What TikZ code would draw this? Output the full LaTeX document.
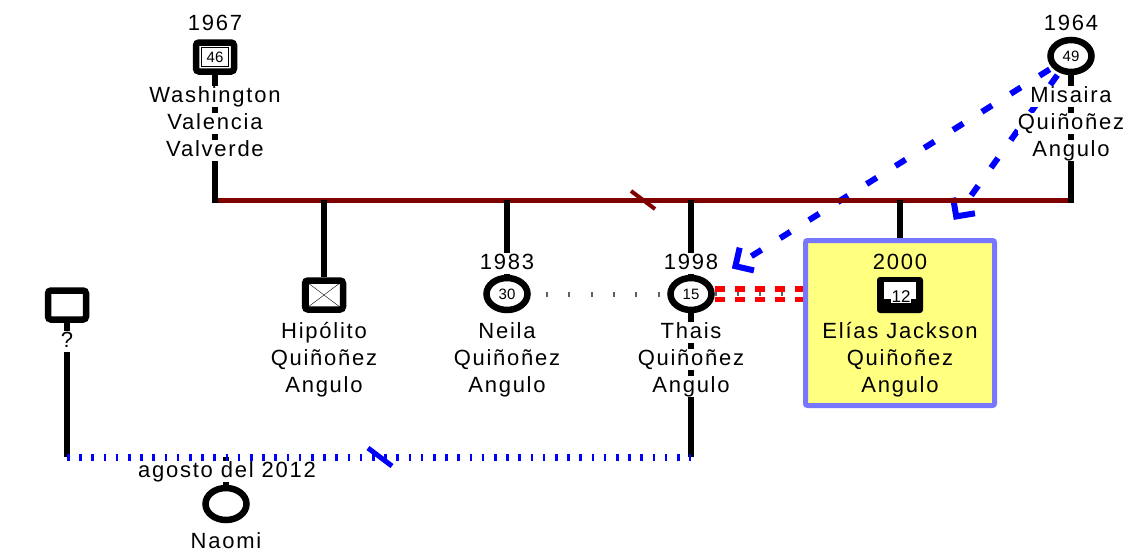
\documentclass[tikz,border=0pt]{standalone}
\usepackage{fontspec}
\setmainfont{Liberation Sans}
\newfontfamily\gfont[LetterSpace=8]{Liberation Sans}
\usetikzlibrary{shapes.geometric,arrows.meta,backgrounds}
\definecolor{barred}{RGB}{128,0,0}
\definecolor{boxfill}{RGB}{255,255,128}
\definecolor{boxline}{RGB}{119,119,255}
\definecolor{dotgray}{RGB}{96,96,96}
\tikzset{
  male/.style={draw, line width=6.5pt, rounded corners=3pt, fill=white, minimum width=38pt, minimum height=29pt, inner sep=0pt},
  female/.style={ellipse, draw, line width=6.5pt, fill=white, minimum width=41pt, minimum height=32pt, inner sep=0pt, font=\fontsize{15}{15}\selectfont},
  agebox/.style={draw, thin, fill=white, inner sep=0pt, minimum width=27pt, minimum height=19pt, font=\fontsize{15}{15}\selectfont},
  txt/.style={anchor=base, fill=white, inner sep=0pt, text height=16pt, text depth=5pt, font=\fontsize{22}{25}\gfont},
  kin/.style={line width=6pt},
  mate/.style={blue, line width=6pt, dash pattern=on 12pt off 22pt, -{Straight Barb[angle=90:19pt, sharp]}}
}
\begin{document}
\begin{tikzpicture}[x=1pt, y=-1pt]
\useasboundingbox (0,0) rectangle (1135,554);
% parents
\node[male] (washington) at (215,57) {};
\node[agebox] at (washington) {46};
\node[txt] (y1967) at (215,30) {1967};
\foreach \t [count=\n] in {Washington, Valencia, Valverde}
  \node[txt] (washington\n) at (215,75+27*\n) {\t};
\node[female] (misaira) at (1071,56) {49};
\node[txt] (y1964) at (1071,30) {1964};
\foreach \t [count=\n] in {Misaira, Quiñoñez, Angulo}
  \node[txt] (misaira\n) at (1071,75+27*\n) {\t};
% children
\node[male] (hipolito) at (324,295) {};
\node[draw, thin, minimum width=32pt, minimum height=24pt, inner sep=0pt] (hipx) at (hipolito) {};
\draw[thin] (hipx.north west) -- (hipx.south east) (hipx.north east) -- (hipx.south west);
\foreach \t [count=\n] in {Hipólito, Quiñoñez, Angulo}
  \node[txt] (hipolito\n) at (324,311+27*\n) {\t};
\node[female] (neila) at (507,294) {30};
\node[txt] (y1983) at (507,269) {1983};
\foreach \t [count=\n] in {Neila, Quiñoñez, Angulo}
  \node[txt] (neila\n) at (507,311+27*\n) {\t};
\node[female] (thais) at (691,294) {15};
\node[txt] (y1998) at (691,269) {1998};
\foreach \t [count=\n] in {Thais, Quiñoñez, Angulo}
  \node[txt] (thais\n) at (691,311+27*\n) {\t};
\node[draw=boxline, fill=boxfill, line width=5pt, rounded corners=2pt, minimum width=189pt, minimum height=165pt] (eliasbox) at (900,323) {};
\node[txt, fill=none] (y2000) at (900,269) {2000};
\node[fill=black, rounded corners=3pt, minimum width=46pt, minimum height=36pt] (elias) at (900,295) {};
\node[fill=white, inner sep=0pt, minimum width=32pt, minimum height=17pt] at (900,290) {};
\node[fill=white, inner sep=0.5pt, font=\fontsize{17}{17}\selectfont] at (901,297) {12};
\foreach \t [count=\n] in {Elías Jackson, Quiñoñez, Angulo}
  \node[txt, fill=none] (elias\n) at (900,311+27*\n) {\t};
% other side
\node[male] (unknown) at (67,305) {};
\node[txt, font=\fontsize{22}{24}\gfont] (unknown1) at (67,347) {?};
\node[female] (naomi) at (226,504) {};
\node[txt] (date) at (227,477) {agosto del 2012};
\node[txt] (naomi1) at (226,548) {Naomi};
\coordinate (barl) at (215,200);
\coordinate (barr) at (1071,200);
\coordinate (udown) at (67,457);
\coordinate (tdown) at (691,457);
\coordinate (ndown) at (226,457);
\begin{scope}[on background layer]
\draw[mate, shorten <=3pt, shorten >=26pt] (misaira) -- (thais);
\draw[mate, shorten <=3pt, shorten >=70pt] (misaira) -- (elias);
\draw[barred, line width=5pt] (barl) -- (barr);
\draw[kin] (washington.south) -- ([yshift=-2.5pt]barl);
\draw[kin] (misaira.south) -- ([yshift=-2.5pt]barr);
\foreach \p in {hipolito, neila, thais, eliasbox}
  \draw[kin] (\p.north |- barl) -- (\p.north);
\draw[kin] (thais.south) -- (tdown);
\draw[kin] (unknown.south) -- (udown);
\draw[kin] (ndown) -- (naomi.north);
\draw[blue, line width=7pt, dash pattern=on 2.5pt off 9.7pt] (udown) -- (tdown);
\draw[dotgray, line width=5pt, dash pattern=on 2pt off 20.3pt, dash phase=7pt] (neila.east) -- (thais.west);
\draw[red, line width=16pt, dash pattern=on 10pt off 10pt] (thais.east) -- (thais.east -| eliasbox.west);
\draw[white, line width=5pt] (thais.east) -- (thais.east -| eliasbox.west);
\draw[dotgray, line width=4pt, dash pattern=on 2pt off 20pt] (thais.east) -- (thais.east -| eliasbox.west);
\end{scope}
\draw[barred, line width=4pt] (631,191) -- (655,209);
\draw[blue, line width=5pt] (368,448) -- (392,466);
\end{tikzpicture}
\end{document}
